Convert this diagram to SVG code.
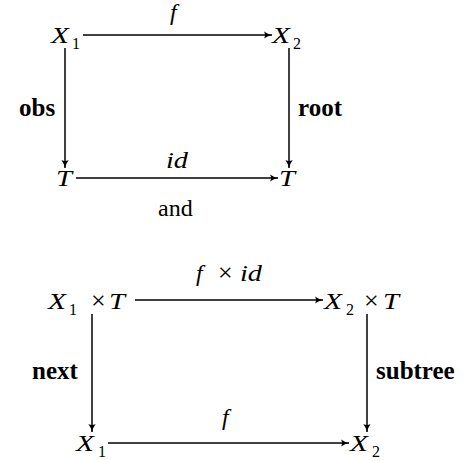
<svg xmlns="http://www.w3.org/2000/svg" width="473" height="460" viewBox="0 0 473 460">
<style>
.m{font-family:"Liberation Serif","Times New Roman",serif;font-style:italic;font-size:24px;fill:#000}
.s{font-family:"Liberation Serif","Times New Roman",serif;font-size:16px;fill:#000}
.r{font-family:"Liberation Serif","Times New Roman",serif;font-size:24px;fill:#000}
.x{font-family:"Liberation Serif","Times New Roman",serif;font-size:26px;fill:#000}
.b{font-family:"Liberation Serif","Times New Roman",serif;font-weight:bold;font-size:25px;fill:#000}
.e{stroke:#000;stroke-width:1.5;fill:none;marker-end:url(#ah)}
</style>
<defs>
<marker id="ah" viewBox="-9 -5 10 10" refX="0" refY="0" markerWidth="10" markerHeight="10" markerUnits="userSpaceOnUse" orient="auto">
<path d="M-8,-3.6 Q-4,-0.8 0,0 Q-4,0.8 -8,3.6 Q-6,0 -8,-3.6 Z" fill="#000"/>
</marker>
</defs>
<rect width="473" height="460" fill="#fff"/>
<g id="connectors">
<line class="e" x1="83" y1="35" x2="272" y2="35"/>
<line class="e" x1="65" y1="48" x2="65" y2="168"/>
<line class="e" x1="289" y1="48" x2="289" y2="168"/>
<line class="e" x1="76" y1="178" x2="278" y2="178"/>
<line class="e" x1="135" y1="300" x2="323" y2="300"/>
<line class="e" x1="92" y1="314" x2="92" y2="432"/>
<line class="e" x1="367" y1="314" x2="367" y2="432"/>
<line class="e" x1="108" y1="443" x2="349" y2="443"/>
</g>
<g id="labels">
<text class="m" x="170" y="20">f</text>
<text class="m" x="166" y="168" textLength="22" lengthAdjust="spacingAndGlyphs">id</text>
<text class="b" x="19" y="116">obs</text>
<text class="b" x="298" y="116">root</text>
<text class="m" x="196" y="281">f</text>
<text class="x" x="218" y="281">×</text>
<text class="m" x="240" y="281" textLength="22" lengthAdjust="spacingAndGlyphs">id</text>
<text class="b" x="32" y="379">next</text>
<text class="b" x="376" y="379">subtree</text>
<text class="m" x="222" y="425">f</text>
</g>
<g id="and"><text class="r" x="158" y="216">and</text></g>
<g id="n-X1-top"><text class="m" x="51" y="43" textLength="18" lengthAdjust="spacingAndGlyphs">X</text><text class="s" x="72" y="49">1</text></g>
<g id="n-X2-top"><text class="m" x="272" y="43" textLength="18" lengthAdjust="spacingAndGlyphs">X</text><text class="s" x="293" y="49">2</text></g>
<g id="n-T-left"><text class="m" x="56" y="186" textLength="16" lengthAdjust="spacingAndGlyphs">T</text></g>
<g id="n-T-right"><text class="m" x="279" y="186" textLength="16" lengthAdjust="spacingAndGlyphs">T</text></g>
<g id="n-X1T"><text class="m" x="48" y="309" textLength="18" lengthAdjust="spacingAndGlyphs">X</text><text class="s" x="69" y="315">1</text><text class="x" x="91" y="309">×</text><text class="m" x="109" y="309" textLength="16" lengthAdjust="spacingAndGlyphs">T</text></g>
<g id="n-X2T"><text class="m" x="324" y="309" textLength="18" lengthAdjust="spacingAndGlyphs">X</text><text class="s" x="346" y="315">2</text><text class="x" x="364" y="309">×</text><text class="m" x="383" y="309" textLength="16" lengthAdjust="spacingAndGlyphs">T</text></g>
<g id="n-X1-bot"><text class="m" x="76" y="451" textLength="18" lengthAdjust="spacingAndGlyphs">X</text><text class="s" x="98" y="457">1</text></g>
<g id="n-X2-bot"><text class="m" x="350" y="451" textLength="18" lengthAdjust="spacingAndGlyphs">X</text><text class="s" x="372" y="457">2</text></g>
</svg>
